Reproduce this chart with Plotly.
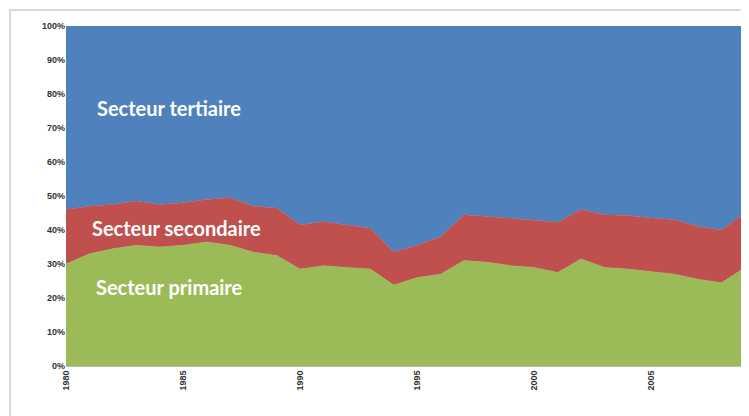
import plotly.graph_objects as go

# Years and sector shares (% of total)
years = list(range(1980, 2010))
primaire = [30, 33, 34.5, 35.5, 35, 35.5, 36.5, 35.5, 33.5, 32.5,
            28.5, 29.5, 29, 28.5, 23.8, 26, 27, 31, 30.5, 29.5,
            29, 27.5, 31.5, 29, 28.5, 27.8, 27, 25.5, 24.5, 29]
secondaire = [16, 14, 13, 13, 12.5, 12.5, 12.5, 14, 13.5, 14,
              13, 13, 12.5, 12, 9.7, 9.5, 11, 13.5, 13.5, 14,
              14, 14.8, 14.5, 15.5, 15.8, 15.7, 16, 15.5, 15.5, 16]
tertiaire = [round(100 - p - s, 1) for p, s in zip(primaire, secondaire)]

y_ticks = list(range(0, 101, 10))
y_labels = [f"{v}%" for v in y_ticks]
x_ticks = [1980, 1985, 1990, 1995, 2000, 2005]

colors = {"primaire": "#9BBB59", "secondaire": "#C0504D", "tertiaire": "#4F81BD"}

fig = go.Figure()
for name, vals in [("primaire", primaire), ("secondaire", secondaire), ("tertiaire", tertiaire)]:
    fig.add_trace(go.Scatter(
        x=years, y=vals, name="Secteur " + name,
        mode="lines", stackgroup="one",
        line=dict(width=0.5, color=colors[name]),
        fillcolor=colors[name],
    ))

# in-chart labels
labels = [("Secteur tertiaire", 1984.4, 76), ("Secteur secondaire", 1984.7, 40.6),
          ("Secteur primaire", 1984.4, 23.2)]
for txt, lx, ly in labels:
    fig.add_annotation(x=lx, y=ly, text=txt, showarrow=False,
                       font=dict(family="Lato", size=20, color="white", weight="bold"))

tick_font = dict(family="Liberation Sans", size=9, color="#333333", weight="bold")

# page body has an 8px margin, so the figure is sized and padded to compensate
fig.update_layout(
    width=741, height=408,
    margin=dict(l=58, r=4, t=18, b=50),
    paper_bgcolor="white", plot_bgcolor="white",
    showlegend=False,
    xaxis=dict(range=[1980, 2009], tickvals=x_ticks, ticktext=[str(v) for v in x_ticks],
               tickangle=-90, tickfont=tick_font, showgrid=False, zeroline=False,
               showline=True, linecolor="#BBBBBB", linewidth=1, ticks=""),
    yaxis=dict(range=[0, 100], tickvals=y_ticks, ticktext=y_labels, tickfont=tick_font,
               showgrid=False, zeroline=False, showline=False, ticks=""),
)

# light chart border
fig.add_shape(type="rect", xref="paper", yref="paper",
              x0=-56 / 679, x1=1.02, y0=-60 / 340, y1=1 + 16 / 340,
              line=dict(color="#D9D9D9", width=2), fillcolor="rgba(0,0,0,0)", layer="below")

fig.write_html("out.html")
